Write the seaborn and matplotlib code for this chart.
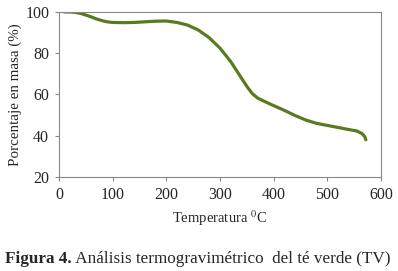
import numpy as np
import pandas as pd
import matplotlib
matplotlib.use("Agg")
import matplotlib.pyplot as plt
import seaborn as sns

# TGA curve of green tea
temperatura = [10, 20, 30, 40, 50, 60, 70, 80, 90, 100, 120, 140, 160, 180, 200,
               220, 240, 260, 280, 300, 320, 340, 350, 360, 370, 380, 400, 420,
               440, 460, 480, 500, 520, 540, 555, 565, 570, 572]
masa = [100, 100, 99.8, 99.3, 98.5, 97.6, 96.6, 95.8, 95.2, 94.9, 94.8, 94.9,
        95.2, 95.5, 95.6, 94.9, 93.6, 91.2, 87.5, 82.5, 76, 68, 64, 60.5, 58.3,
        57, 54.6, 52.3, 49.8, 47.6, 46, 45, 44, 43, 42.3, 41, 39.5, 38]

df = pd.DataFrame({"T": temperatura, "masa": masa})

sns.set_style("white")
plt.rcParams["font.family"] = ["Liberation Serif", "DejaVu Serif"]
plt.rcParams["mathtext.fontset"] = "stix"

fig = plt.figure(figsize=(3.98, 2.71), dpi=100)
ax = fig.add_axes([0.148, 0.347, 0.809, 0.609])

sns.lineplot(data=df, x="T", y="masa", ax=ax, color="#5b7a1f", linewidth=2.3,
             sort=False, estimator=None)

ax.set_xlim(0, 600)
ax.set_ylim(20, 100)
ax.set_xticks(range(0, 601, 100))
ax.set_yticks(range(20, 101, 20))
ax.tick_params(axis="both", labelsize=11.5, length=3, width=0.8, color="#888888",
               direction="out", pad=4, bottom=True, left=True)
for s in ax.spines.values():
    s.set_color("#888888")
    s.set_linewidth(0.8)
ax.set_xlabel(r"Temperatura $^{\mathrm{0}}$C", fontsize=10.5, labelpad=4)
ax.set_ylabel("Porcentaje en masa (%)", fontsize=10.8, labelpad=2)

t1 = fig.text(0.013, 0.03, "Figura 4.", fontsize=12.3, fontweight="bold")
ax.annotate(" Análisis termogravimétrico  del té verde (TV)", xy=(1, 0),
            xycoords=t1, va="bottom", ha="left", fontsize=12.3,
            annotation_clip=False)

fig.savefig("out.png", dpi=100)
